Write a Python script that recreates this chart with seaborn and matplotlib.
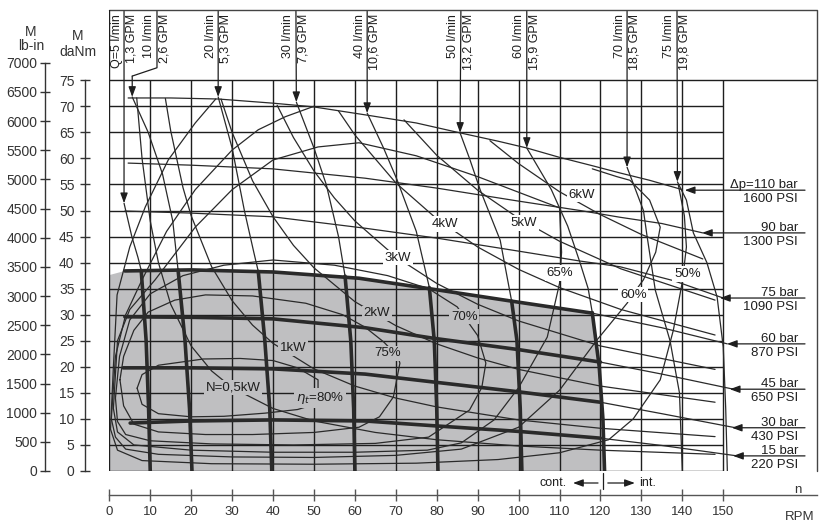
import numpy as np
import matplotlib
matplotlib.use("Agg")
import matplotlib.pyplot as plt
import seaborn as sns

sns.set_theme(style="white")
plt.rcParams['font.family'] = ['Liberation Sans', 'DejaVu Sans']

# ---------------- data (RPM n, torque T in daNm) ----------------
# pressure curves
p110_n = [4.6, 15, 26.6, 40, 49.8, 63, 75, 85.7, 95, 102, 110, 118, 124.8, 132, 140]
p110_T = [71.6, 71.6, 71.4, 70.6, 69.9, 68.3, 66.8, 64.9, 63.3, 62, 60.2, 58.6, 57.2, 55.8, 54]
p90_n = [4.6, 20, 39.8, 62.5, 80, 100, 115, 124.8, 135, 145]
p90_T = [59.1, 58.7, 58, 56.2, 54.3, 51.8, 50, 48.7, 47.5, 45.7]
p75_n = [3.8, 20, 39.8, 62.5, 80, 100, 115, 124.8, 138, 150]
p75_T = [49.9, 49.5, 48.8, 46.6, 44.7, 42.2, 40.3, 39.2, 36.5, 33.2]
p60_n = [3.8, 20, 40, 61, 79, 100, 118, 135, 151]
p60_T = [38.4, 38.6, 38.2, 37, 34.9, 32.4, 30.3, 27.5, 24.4]
p45_n = [3.8, 20, 40, 62.5, 79, 100, 120, 135, 152.5]
p45_T = [29.6, 29.5, 29.2, 27.5, 25.5, 23.3, 20.9, 18.6, 15.7]
p30_n = [3.4, 20, 40, 62.5, 79, 100, 120, 135, 153]
p30_T = [19.8, 19.8, 19.6, 18.6, 17.1, 15.2, 13.2, 11, 8.3]
p15_n = [5.1, 20, 40, 62.5, 79, 100, 120, 135, 153.4]
p15_T = [9.2, 9.6, 9.8, 9.6, 8.7, 7.6, 6.3, 4.9, 2.9]

# flow curves
q5_n = [3.6, 5.5, 7.0, 7.8, 9.0, 9.6, 10.0]
q5_T = [51.4, 45, 41, 38.5, 25, 12, 0]
q10_n = [5.6, 9.5, 13, 15.5, 16.8, 18.5, 19.6, 20.2]
q10_T = [71.8, 65, 57, 48, 38.6, 25, 12, 0]
q20_n = [26.6, 30, 33, 35.3, 36.4, 38, 39.2, 39.7]
q20_T = [71.8, 62, 50, 42, 38.3, 25, 12, 0]
q30_n = [45.7, 50, 53, 56, 57.6, 59, 59.7, 60]
q30_T = [70.8, 62, 55, 45, 37.4, 25, 12, 0]
q40_n = [63, 67, 70.3, 75, 78.2, 79.4, 80, 80.3]
q40_T = [68.7, 62, 55.9, 46, 35.2, 25, 12, 0]
q50_n = [85.7, 88, 90.6, 95.5, 98.3, 99.6, 100.4, 100.8]
q50_T = [64.9, 60, 54, 44.3, 32.6, 25, 12, 0]
q60_n = [102, 105, 108, 112, 115, 117, 118, 119.7, 120.6, 121]
q60_T = [62, 58, 54, 47, 40, 35, 30.4, 20, 10, 0]
q70_n = [126.5, 130.5, 131.4, 133.4, 137, 139.3, 140]
q70_T = [58.3, 50, 45, 34.7, 25, 15, 0]
q75_n = [138.8, 141, 142.7, 146, 148.5, 150, 150.6, 151]
q75_T = [55.5, 52, 45.7, 40, 33.4, 23.8, 12, 0]

# power curves
kw05_n = [6.7, 8, 10, 12, 15, 20, 25, 30, 40, 50, 65, 80, 100, 120, 148]
kw05_T = [71.6, 60, 48, 40, 32, 24, 19.2, 16, 12, 9.6, 7.4, 6, 4.8, 4, 3.2]
kw1_n = [13.7, 15, 18, 20, 25, 30, 35, 40, 50, 60, 70, 80, 100, 120, 148]
kw1_T = [71.5, 65.3, 54.4, 49, 39.2, 32.7, 28, 24.5, 19.6, 16.3, 14, 12.3, 9.8, 8.2, 6.6]
kw2_n = [27.3, 30, 35, 40, 45, 50, 60, 70, 80, 90, 100, 120, 148]
kw2_T = [71.4, 65, 55.7, 48.8, 43.3, 39, 32.5, 27.9, 24.4, 21.7, 19.5, 16.3, 13.2]
kw3_n = [41, 45, 50, 55, 60, 70, 80, 90, 100, 120, 148]
kw3_T = [70.2, 64, 57.6, 52.4, 48, 41.1, 36, 32, 28.8, 24, 19.5]
kw4_n = [56, 60, 70, 80, 90, 100, 110, 125, 148]
kw4_T = [69.1, 64.5, 55.3, 48.4, 43, 38.7, 35.2, 31, 26.1]
kw5_n = [72, 80, 90, 100, 110, 125, 148]
kw5_T = [67.4, 60.6, 53.9, 48.5, 44.1, 38.8, 32.8]
kw6_n = [93, 100, 110, 120, 130, 145]
kw6_T = [63.4, 59, 53.6, 49.2, 45.4, 40.7]

# efficiency contours
e80_n = [6.8, 8, 12, 23, 32, 40, 46, 51, 51, 46, 38, 28, 20, 12, 8, 6.8]
e80_T = [15.9, 18.5, 20.3, 21.5, 21.6, 21.2, 19.8, 17.5, 13, 11.8, 11.1, 10.5, 10.4, 11, 12.8, 15.9]
e75_n = [2.6, 3.5, 6, 9.5, 16, 23.5, 35, 48, 57, 62.5, 67, 70.5, 71, 69.4, 66, 61, 50, 35, 23.5, 12, 6, 3.5, 2.6]
e75_T = [17.5, 22, 27, 30.5, 32.8, 33.8, 33.6, 32.2, 30, 27.6, 24.8, 22, 20.7, 14.2, 10.4, 8.4, 7.4, 7, 7, 7.5, 9, 12.5, 17.5]
e70_n = [1.5, 2.5, 5, 10, 18, 28, 40, 55, 68, 78, 85, 90, 92, 91, 88, 78, 65, 45, 25, 10, 4, 2, 1.5]
e70_T = [14, 22, 29, 34, 37.5, 39.5, 40.5, 39.5, 37.5, 35, 31.5, 26, 20.7, 16, 11.7, 6.5, 5.3, 5, 5.2, 5.8, 7, 9.5, 14]
e65_n = [1, 2, 5, 11.2, 21, 30, 40, 51, 61, 75, 90, 100, 110, 110.5, 110, 107, 100, 94, 86, 77.7, 60, 40, 20, 6, 2, 1]
e65_T = [12, 25, 31, 36.7, 46.8, 54, 59.7, 62.2, 63, 60.5, 56.5, 53.5, 50.5, 42, 36, 25.7, 16, 9.8, 5.4, 4, 3.6, 3.6, 4, 5, 7.5, 12]
e60a_n = [0.5, 1.5, 4, 8, 14, 21, 30, 36.4, 43, 50]
e60a_T = [10, 22, 30, 36.7, 46, 54, 61.6, 65.5, 68, 70]
e60b_n = [118, 124, 127.2, 132, 134.6, 133.5, 130.5, 128, 126.5, 119, 110, 100, 86, 70, 50, 30, 12, 4, 1.5, 0.5]
e60b_T = [58, 56.5, 55.8, 52, 46.8, 42, 36.7, 34, 32.2, 25, 15.5, 8.4, 4.2, 3, 2.6, 2.7, 3.2, 4.2, 6.5, 10]
e50a_n = [0.3, 1, 1.9, 5, 8.8, 14.4, 21, 26]
e50a_T = [8, 20, 33.8, 43, 50.7, 59.7, 66.8, 71.4]
e50b_n = [139, 140.5, 141, 140, 137.8, 134.6, 128, 122, 110, 95, 75, 50, 25, 8, 2, 0.3]
e50b_T = [55, 49, 43, 36.3, 27, 17.5, 10, 6, 3.5, 2.2, 1.5, 1.3, 1.4, 2, 4, 8]

flow_labels = [("Q=5 l/min", "1,3 GPM"), ("10 l/min", "2,6 GPM"), ("20 l/min", "5,3 GPM"),
               ("30 l/min", "7,9 GPM"), ("40 l/min", "10,6 GPM"), ("50 l/min", "13,2 GPM"),
               ("60 l/min", "15,9 GPM"), ("70 l/min", "18,5 GPM"), ("75 l/min", "19,8 GPM")]
flow_label_n = [3.6, 11.65, 26.6, 45.6, 63, 85.9, 102, 126.5, 138.7]
flow_tip_n = [3.6, 5.6, 26.6, 45.7, 63, 85.7, 102, 126.5, 138.8]
flow_tip_T = [51.4, 71.8, 71.8, 70.8, 68.7, 64.9, 62, 58.3, 55.5]

press_labels = [("\u0394p=110 bar", "1600 PSI"), ("90 bar", "1300 PSI"), ("75 bar", "1090 PSI"),
                ("60 bar", "870 PSI"), ("45 bar", "650 PSI"), ("30 bar", "430 PSI"), ("15 bar", "220 PSI")]
press_tip_n = [140.6, 144.8, 149.2, 150.9, 151.6, 152.1, 152.4]
press_line_T = [53.9, 45.7, 33.2, 24.4, 15.7, 8.3, 2.9]

rpm_ticks = list(range(0, 151, 10))
danm_ticks = list(range(0, 76, 5))
lbin_ticks = list(range(0, 7001, 500))

# ---------------- figure ----------------
W, H = 822, 531
PX, PY, X0, Y0 = 4.093, 5.21, 109.3, 471.0
fig = plt.figure(figsize=(8.22, 5.31), dpi=100)

def rect(x0, y0, x1, y1):
    return [x0 / W, 1 - y1 / H, (x1 - x0) / W, (y1 - y0) / H]

ax = fig.add_axes(rect(X0, 10, 817, Y0))
xmax = (817 - X0) / PX
ymax = (Y0 - 10) / PY
ax.set_xlim(0, xmax)
ax.set_ylim(0, ymax)
ax.axis('off')

DARK = '#1e1e1e'
LINE = '#2a2a2a'
GRAY = '#bfbfc1'
THIN = 0.9
THICK = 2.6

# gray continuous region
g_n = [0] + p60_n[:7] + [118.3, 119.7, 120.6, 121, 0]
g_T = [37.6] + p60_T[:7] + [30, 20, 10, 0, 0]
ax.fill(g_n, g_T, color=GRAY, lw=0, zorder=0)

# grid
ax.hlines(danm_ticks[:-1], 0, 150, color=DARK, lw=1.0, zorder=1)
ax.vlines(rpm_ticks[1:], 0, 75, color=DARK, lw=1.0, zorder=1)
ax.plot([0, xmax], [75, 75], color=DARK, lw=1.0, zorder=1)
ax.plot([0, xmax, xmax], [ymax, ymax, 0], color='#444', lw=1.0, zorder=1, clip_on=False)
ax.plot([0, 0], [0, ymax], color=DARK, lw=1.0, zorder=1)

def line(n, T, lw=THIN, z=2):
    sns.lineplot(x=np.asarray(n, float), y=np.asarray(T, float), sort=False, estimator=None,
                 ax=ax, color=LINE, linewidth=lw, zorder=z, legend=False)

# thin curves
for n, T in [(p110_n, p110_T), (p90_n, p90_T), (p75_n, p75_T), (p60_n, p60_T), (p45_n, p45_T),
             (p30_n, p30_T), (p15_n, p15_T),
             (q5_n, q5_T), (q10_n, q10_T), (q20_n, q20_T), (q30_n, q30_T), (q40_n, q40_T),
             (q50_n, q50_T), (q60_n, q60_T), (q70_n, q70_T), (q75_n, q75_T),
             (kw05_n, kw05_T), (kw1_n, kw1_T), (kw2_n, kw2_T), (kw3_n, kw3_T), (kw4_n, kw4_T),
             (kw5_n, kw5_T), (kw6_n, kw6_T),
             (e80_n, e80_T), (e75_n, e75_T), (e70_n, e70_T), (e65_n, e65_T),
             (e60a_n, e60a_T), (e60b_n, e60b_T), (e50a_n, e50a_T), (e50b_n, e50b_T)]:
    line(n, T)

# thick parts inside the continuous region
for n, T in [(p60_n, p60_T), (p45_n, p45_T), (p30_n, p30_T), (p15_n, p15_T)]:
    n = np.asarray(n); T = np.asarray(T)
    m = n <= 120.5
    line(n[m], T[m], THICK, 3)
for n, T in [(q5_n, q5_T), (q10_n, q10_T), (q20_n, q20_T), (q30_n, q30_T),
             (q40_n, q40_T), (q50_n, q50_T), (q60_n, q60_T)]:
    n = np.asarray(n); T = np.asarray(T)
    m = T <= np.interp(n, p60_n, p60_T) + 0.4
    line(n[m], T[m], THICK, 3)

# flow labels and arrows
AP = dict(arrowstyle='-|>,head_length=0.6,head_width=0.22', color=DARK, lw=0.9,
          mutation_scale=10, shrinkA=0, shrinkB=0)
Ttop = (Y0 - 14) / PY
dn = 7.5 / PX
for (t1, t2), nl, nt, tt in zip(flow_labels, flow_label_n, flow_tip_n, flow_tip_T):
    ax.text(nl - dn, Ttop, t1, rotation=90, ha='center', va='top', fontsize=9, color=DARK)
    ax.text(nl + dn, Ttop, t2, rotation=90, ha='center', va='top', fontsize=9, color=DARK)
    if abs(nl - nt) > 0.5:
        ax.plot([nl, nl, nt], [Ttop + 0.5, 77.4, 75.8], color=DARK, lw=0.9)
        ax.annotate('', xy=(nt, tt), xytext=(nt, 75.8), arrowprops=AP)
    else:
        ax.annotate('', xy=(nt, tt), xytext=(nl, Ttop + 0.5), arrowprops=AP)

# pressure labels
n_txt = (798 - X0) / PX
n_end = (805 - X0) / PX
for (t1, t2), nt, tl in zip(press_labels, press_tip_n, press_line_T):
    ax.annotate('', xy=(nt, tl), xytext=(n_end, tl), arrowprops=AP, annotation_clip=False)
    ax.text(n_txt, tl + 2.2 / PY, t1, ha='right', va='baseline', fontsize=9.5, color=DARK)
    ax.text(n_txt, tl - 12.0 / PY, t2, ha='right', va='baseline', fontsize=9.5, color=DARK)

# curve labels
def lab(n, T, s, bg):
    ax.text(n, T, s, ha='center', va='center', fontsize=9.5, color=DARK, zorder=5,
            bbox=dict(boxstyle='square,pad=0.12', fc=bg, ec='none'))

lab(30.2, 16.1, "N=0,5kW", GRAY)
lab(44.9, 23.6, "1kW", GRAY)
lab(65.4, 30.3, "2kW", GRAY)
lab(70.5, 40.9, "3kW", 'white')
lab(82.0, 47.4, "4kW", 'white')
lab(101.3, 47.6, "5kW", 'white')
lab(115.5, 53.0, "6kW", 'white')
lab(51.5, 14.0, r"$\eta_t$=80%", GRAY)
lab(68.0, 22.6, "75%", GRAY)
lab(86.7, 29.6, "70%", GRAY)
lab(110.1, 38.0, "65%", 'white')
lab(128.0, 33.8, "60%", 'white')
lab(141.2, 37.8, "50%", 'white')

# cont. / int. marker
Tm = (Y0 - 483) / PY
ax.text(108.4, Tm, "cont.", ha='center', va='center', fontsize=9, color=DARK, clip_on=False)
ax.annotate('', xy=(113.3, Tm), xytext=(119.4, Tm), arrowprops=AP, annotation_clip=False)
ax.plot([120.6, 120.6], [(Y0 - 473) / PY, (Y0 - 489) / PY], color=DARK, lw=0.9, clip_on=False)
ax.annotate('', xy=(128.4, Tm), xytext=(121.8, Tm), arrowprops=AP, annotation_clip=False)
ax.text(131.6, Tm, "int.", ha='center', va='center', fontsize=9, color=DARK, clip_on=False)

# ---------------- separate axes lines ----------------
def yaxis(xpix, lim, bounds, ticks, pad):
    a = fig.add_axes(rect(xpix, 10, xpix + 0.5, Y0))
    a.set_facecolor('none')
    a.set_ylim(*lim)
    for s in ['top', 'right', 'bottom']:
        a.spines[s].set_visible(False)
    a.spines['left'].set_color('#333')
    a.spines['left'].set_linewidth(1.0)
    a.spines['left'].set_bounds(*bounds)
    a.set_xticks([])
    a.set_yticks(ticks)
    a.set_yticklabels([str(t) for t in ticks])
    a.tick_params(axis='y', direction='inout', length=7, width=1.0, color='#333',
                  labelsize=10, labelcolor='#333', pad=pad, left=True)
    return a

lb_per_px = 7000 / (Y0 - 62.7)
yaxis(45, (0, (Y0 - 10) * lb_per_px), (0, 7000), lbin_ticks, 2)
yaxis(85, (0, ymax), (0, 75), danm_ticks, 4)

axx = fig.add_axes(rect(X0, 494.5, 817, 495))
axx.set_facecolor('none')
axx.set_xlim(0, xmax)
for s in ['top', 'right', 'left']:
    axx.spines[s].set_visible(False)
axx.spines['bottom'].set_color('#555')
axx.spines['bottom'].set_linewidth(1.0)
axx.set_yticks([])
axx.set_xticks(rpm_ticks)
axx.set_xticklabels([str(t) for t in rpm_ticks])
axx.tick_params(axis='x', direction='inout', length=8, width=1.0, color='#555',
                labelsize=9.5, labelcolor='#333', pad=4, bottom=True)

def ftext(x, y, s, **kw):
    fig.text(x / W, 1 - y / H, s, ha='center', va='center', color='#333', **kw)

ftext(31, 32, "M", fontsize=10)
ftext(31, 46, "lb-in", fontsize=10)
ftext(78, 36, "M", fontsize=10)
ftext(78, 52, "daNm", fontsize=10)
ftext(798, 490, "n", fontsize=9.5)
ftext(800, 517, "RPM", fontsize=9.5)

fig.savefig("out.png", dpi=100)
